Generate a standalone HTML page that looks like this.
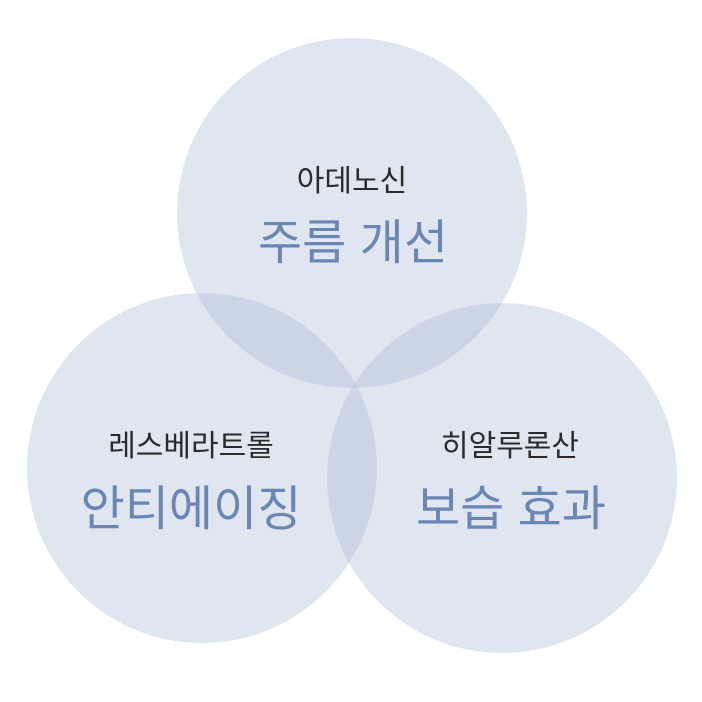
<!DOCTYPE html>
<html><head><meta charset="utf-8"><style>
html,body{margin:0;padding:0;background:#fff;}
svg{display:block;}
text{font-family:"Liberation Sans","Noto Sans CJK KR","NanumGothic",sans-serif;text-anchor:middle;}
.s{font-size:30px;fill:#2a2a2a;}
.b{font-size:48px;fill:#6a86b5;font-weight:normal;}
</style></head><body>
<svg width="702" height="702" viewBox="0 0 702 702">
<g fill="rgb(165,182,210)" fill-opacity="0.34">
<circle cx="352" cy="213" r="175"/>
<circle cx="202" cy="468" r="175"/>
<circle cx="502" cy="478" r="175"/>
</g>
<text class="s" x="352" y="191">아데노신</text>
<text class="b" x="353" y="259">주름 개선</text>
<text class="s" x="191" y="456">레스베라트롤</text>
<text class="b" x="191" y="525">안티에이징</text>
<text class="s" x="510" y="456">히알루론산</text>
<text class="b" x="511" y="525">보습 효과</text>
</svg>
</body></html>
